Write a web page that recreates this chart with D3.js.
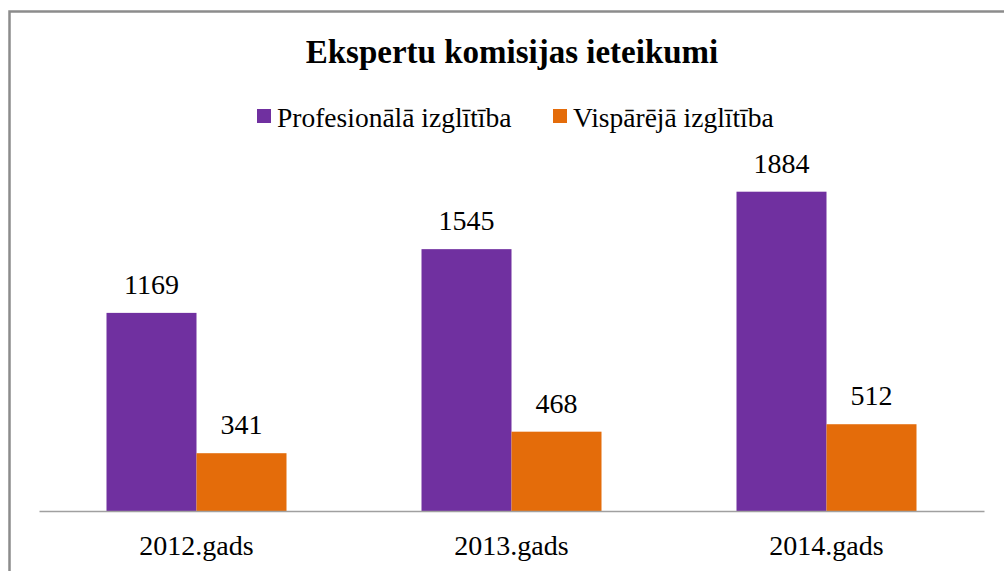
<!DOCTYPE html>
<html>
<head>
<meta charset="utf-8">
<script src="https://cdn.jsdelivr.net/npm/d3@7"></script>
<style>
  body { margin: 0; background: #fff; }
  svg text { font-family: "Liberation Serif", "Times New Roman", serif; fill: #000; }
</style>
</head>
<body>
<script>
  //   data
  const years = ["2012.gads", "2013.gads", "2014.gads"];
  const seriesNames = ["Profesionālā izglītība", "Vispārējā izglītība"];
  const profValues = [1169, 1545, 1884];
  const vispValues = [341, 468, 512];
  const colors = ["#7030A0", "#E46C0A"];

  const w = 1004;
  const h = 571;
  const baseY = 511;
  const serif = "'Liberation Serif', 'Times New Roman', serif";

  const svg = d3.select("body").append("svg").attr("width", w).attr("height", h);

  //   chart border
  svg.append("rect")
    .attr("x", 9.5).attr("y", 11.5)
    .attr("width", 1100).attr("height", 600)
    .attr("fill", "none")
    .attr("stroke", "#8c8c8c")
    .attr("stroke-width", 2.5);

  //   title
  svg.append("text")
    .attr("x", 512).attr("y", 63)
    .attr("text-anchor", "middle")
    .style("font-family", serif)
    .style("font-size", "33px")
    .style("font-weight", "bold")
    .text("Ekspertu komisijas ieteikumi");

  //   scales
  const x0 = d3.scaleBand().domain(years).range([39, 984]);
  const x1 = d3.scaleBand().domain(seriesNames).range([0, 180]);
  const y = d3.scaleLinear().domain([0, 1884]).range([baseY, 191.7]);

  const rows = years.map((yr, i) => ({
    year: yr,
    vals: [
      { name: seriesNames[0], v: profValues[i], c: colors[0] },
      { name: seriesNames[1], v: vispValues[i], c: colors[1] },
    ],
  }));

  const groups = svg.selectAll(".grp")
    .data(rows)
    .enter()
    .append("g")
    .attr("class", "grp")
    .attr("transform", (d) => "translate(" + (x0(d.year) + x0.bandwidth() / 2 - 90) + ",0)");

  groups.selectAll("rect")
    .data((d) => d.vals)
    .enter()
    .append("rect")
    .attr("x", (d) => x1(d.name))
    .attr("y", (d) => y(d.v))
    .attr("width", x1.bandwidth())
    .attr("height", (d) => baseY - y(d.v))
    .attr("fill", (d) => d.c);

  groups.selectAll(".val")
    .data((d) => d.vals)
    .enter()
    .append("text")
    .attr("class", "val")
    .attr("x", (d) => x1(d.name) + x1.bandwidth() / 2)
    .attr("y", (d) => y(d.v) - 19)
    .attr("text-anchor", "middle")
    .style("font-family", serif)
    .style("font-size", "28px")
    .text((d) => d.v);

  //   x axis
  const xAxis = d3.axisBottom(x0).tickSize(0).tickPadding(24);
  const ax = svg.append("g")
    .attr("transform", "translate(0," + baseY + ")")
    .call(xAxis);
  ax.select(".domain").attr("stroke", "#a0a0a0").attr("stroke-width", 1.5);
  ax.selectAll("text")
    .style("font-size", "28px")
    .style("font-family", serif)
    .attr("fill", "#000");

  //   legend
  const legendX = [257, 553];
  const legend = svg.selectAll(".leg")
    .data(seriesNames)
    .enter()
    .append("g")
    .attr("class", "leg")
    .attr("transform", (d, i) => "translate(" + legendX[i] + ",109)");

  legend.append("rect")
    .attr("width", 14).attr("height", 14)
    .attr("fill", (d, i) => colors[i]);

  legend.append("text")
    .attr("x", 20).attr("y", 18)
    .style("font-family", serif)
    .style("font-size", "27.5px")
    .text((d) => d);
</script>
</body>
</html>
